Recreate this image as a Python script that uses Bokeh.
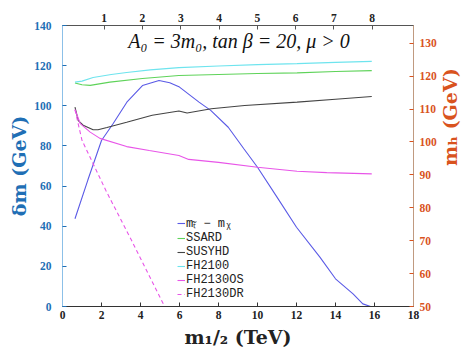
import math
from bokeh.plotting import figure
from bokeh.models import (Range1d, LinearAxis, FixedTicker, Label, Legend, LegendItem)
from bokeh.embed import file_html
from bokeh.resources import INLINE

# ---- data ----
# delta m = m_stop - m_chi (left axis, GeV) vs m_1/2 (TeV)
dm_m12 = [0.64, 1.3, 2.0, 2.6, 3.3, 4.1, 4.95, 5.5, 6.0, 7.0, 7.6, 8.5, 9.3, 10.0, 11.0, 12.0, 13.2, 14.0, 14.9, 15.4, 15.8]
dm_val = [43.7, 63.0, 82.7, 91.2, 101.8, 110.1, 112.6, 111.5, 109.3, 101.8, 97.7, 89.3, 78.6, 69.4, 54.5, 39.5, 24.6, 13.8, 6.3, 1.3, 0.0]

# Higgs mass predictions (right axis, GeV)
ssard_m12 = [0.64, 1.0, 1.42, 2.43, 4.10, 5.97, 8.0, 10.0, 12.03, 14.0, 15.86]
ssard_mh = [117.9, 117.4, 117.2, 118.2, 119.3, 120.2, 120.5, 120.8, 121.0, 121.4, 121.7]

susyhd_m12 = [0.64, 0.81, 1.06, 1.57, 1.82, 2.28, 3.29, 4.60, 5.97, 6.39, 7.63, 9.34, 12.03, 14.0, 15.86]
susyhd_mh = [110.6, 106.5, 105.1, 103.7, 103.7, 104.4, 106.0, 108.1, 109.4, 108.8, 110.1, 111.1, 112.1, 113.0, 113.8]

fh2100_m12 = [0.64, 1.0, 1.57, 2.5, 3.29, 4.5, 5.97, 8.0, 10.0, 12.03, 14.0, 15.86]
fh2100_mh = [118.2, 118.5, 119.6, 120.5, 121.1, 121.9, 122.6, 123.1, 123.5, 123.8, 124.2, 124.5]

fh2130os_m12 = [0.64, 0.91, 1.42, 1.92, 3.29, 4.45, 5.97, 6.47, 8.0, 10.0, 12.03, 13.55, 15.86]
fh2130os_mh = [109.8, 105.6, 103.0, 101.1, 98.6, 97.4, 95.9, 94.7, 93.8, 92.3, 91.1, 90.7, 90.3]

fh2130dr_m12 = [0.64, 1.0, 2.22, 3.54, 5.21]
fh2130dr_mh = [109.8, 100.5, 85.3, 70.1, 50.3]

bottom_ticks = [0, 2, 4, 6, 8, 10, 12, 14, 16, 18]
left_ticks = [0, 20, 40, 60, 80, 100, 120, 140]
right_ticks = [50, 60, 70, 80, 90, 100, 110, 120, 130]
top_ticks = [1, 2, 3, 4, 5, 6, 7, 8]

# ---- styling ----
BLUE_AX = "#1f6fb5"
ORANGE_AX = "#d9531e"
TICK_FONT = "Liberation Serif"
LABEL_FONT = "DejaVu Serif"

p = figure(width=474, height=355, output_backend="svg", toolbar_location=None,
           x_range=Range1d(0, 18), y_range=Range1d(0, 140),
           min_border_left=62, min_border_right=56, min_border_top=25, min_border_bottom=49,
           x_axis_location=None, y_axis_location=None)
p.extra_y_ranges = {"mh": Range1d(50, 135.4)}
p.extra_x_ranges = {"top": Range1d(-0.09, 9.08)}
p.grid.visible = False
p.outline_line_color = "#555555"
p.outline_line_width = 1
p.background_fill_color = "white"
p.border_fill_color = "white"


def style_axis(ax, color, line_color, standoff, label_standoff):
    ax.major_tick_in = 4
    ax.major_tick_out = 0
    ax.minor_tick_line_color = None
    ax.major_tick_line_color = line_color
    ax.axis_line_color = line_color
    ax.major_label_text_color = color
    ax.major_label_text_font = TICK_FONT
    ax.major_label_text_font_style = "bold"
    ax.major_label_text_font_size = "11.5px"
    ax.major_label_standoff = standoff
    ax.axis_label_text_color = color
    ax.axis_label_text_font = LABEL_FONT
    ax.axis_label_text_font_style = "bold"
    ax.axis_label_text_font_size = "19px"
    ax.axis_label_standoff = label_standoff


xb = LinearAxis(ticker=FixedTicker(ticks=bottom_ticks), axis_label="m₁/₂ (TeV)")
style_axis(xb, "#222222", "#333333", 4, 4)
p.add_layout(xb, "below")

yl = LinearAxis(ticker=FixedTicker(ticks=left_ticks), axis_label="δm (GeV)")
style_axis(yl, BLUE_AX, "#8cc0e8", 11, 1)
yl.major_tick_line_color = BLUE_AX
p.add_layout(yl, "left")

yr = LinearAxis(y_range_name="mh", ticker=FixedTicker(ticks=right_ticks), axis_label="mₕ (GeV)")
style_axis(yr, ORANGE_AX, "#c09a80", 6, 10)
yr.major_tick_line_color = ORANGE_AX
if "axis_label_orientation" in LinearAxis.properties():
    yr.axis_label_orientation = math.pi / 2
p.add_layout(yr, "right")

xt = LinearAxis(x_range_name="top", ticker=FixedTicker(ticks=top_ticks))
style_axis(xt, "#222222", "#555555", 4, 0)
p.add_layout(xt, "above")

# ---- lines ----
r_dm = p.line(dm_m12, dm_val, line_color="#5a5ae6", line_width=1.1)
r_ss = p.line(ssard_m12, ssard_mh, y_range_name="mh", line_color="#5fd35a", line_width=1.1)
r_su = p.line(susyhd_m12, susyhd_mh, y_range_name="mh", line_color="#444444", line_width=1.1)
r_fh = p.line(fh2100_m12, fh2100_mh, y_range_name="mh", line_color="#6ee4ee", line_width=1.1)
r_os = p.line(fh2130os_m12, fh2130os_mh, y_range_name="mh", line_color="#e855e8", line_width=1.1)
r_dr = p.line(fh2130dr_m12, fh2130dr_mh, y_range_name="mh", line_color="#e855e8", line_width=1.1,
              line_dash="4 3")

legend = Legend(items=[
    LegendItem(label="mₜ̃ − mᵪ", renderers=[r_dm]),
    LegendItem(label="SSARD", renderers=[r_ss]),
    LegendItem(label="SUSYHD", renderers=[r_su]),
    LegendItem(label="FH2100", renderers=[r_fh]),
    LegendItem(label="FH2130OS", renderers=[r_os]),
    LegendItem(label="FH2130DR", renderers=[r_dr]),
], location=(115, 5))
legend.background_fill_alpha = 0
legend.border_line_color = None
legend.padding = 0
legend.margin = 0
legend.spacing = 0
legend.glyph_width = 8
legend.glyph_height = 14
legend.label_height = 14
legend.label_standoff = 1
legend.label_text_font = "Liberation Mono"
legend.label_text_font_size = "12px"
legend.label_text_color = "#222222"
legend.label_text_baseline = "middle"
p.add_layout(legend, "center")

title = Label(x=9.05, y=132.5, text="A₀ = 3m₀, tan β = 20, μ > 0", text_align="center",
              text_baseline="middle", text_font="Liberation Serif", text_font_style="italic",
              text_font_size="20px", text_color="#111111")
p.add_layout(title)

open("out.html", "w").write(file_html(p, INLINE))
